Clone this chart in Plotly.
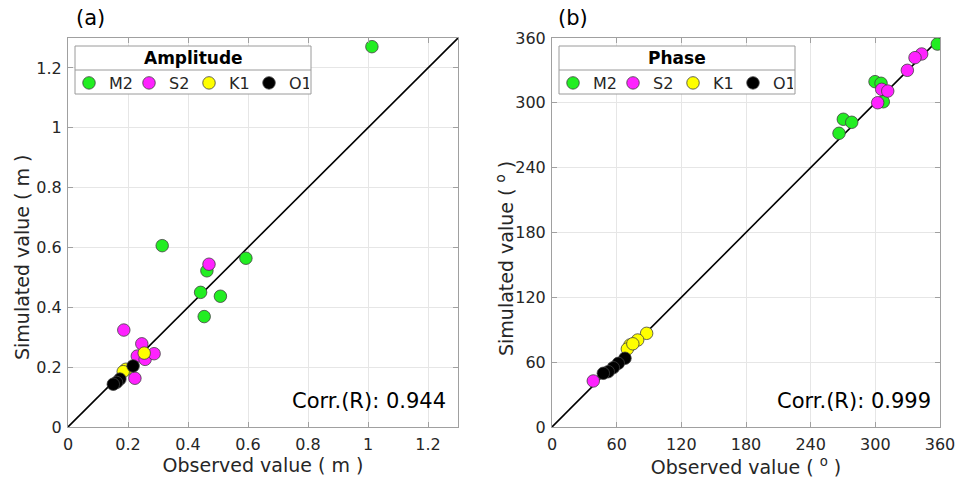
import plotly.graph_objects as go

# ---------------- data ----------------
constituents = ["M2", "S2", "K1", "O1"]
colors = {"M2": "#22ee22", "S2": "#ff22ff", "K1": "#ffff00", "O1": "#000000"}

# Panel (a): amplitude (m)
amp_obs = {
    "M2": [1.013, 0.314, 0.593, 0.463, 0.442, 0.508, 0.454],
    "S2": [0.470, 0.186, 0.246, 0.231, 0.257, 0.287, 0.223],
    "K1": [0.254, 0.193, 0.184],
    "O1": [0.217, 0.173, 0.162, 0.151],
}
amp_sim = {
    "M2": [1.271, 0.606, 0.564, 0.522, 0.450, 0.437, 0.369],
    "S2": [0.544, 0.324, 0.278, 0.237, 0.226, 0.245, 0.163],
    "K1": [0.247, 0.193, 0.185],
    "O1": [0.204, 0.160, 0.149, 0.143],
}

# Panel (b): phase (deg)
pha_obs = {
    "M2": [357.5, 299.7, 305.3, 307.4, 270.3, 278.1, 266.3],
    "S2": [343.0, 336.8, 329.7, 305.9, 311.5, 302.2, 38.3],
    "K1": [87.8, 79.5, 72.4, 69.9, 75.0],
    "O1": [67.7, 61.5, 56.9, 52.2, 47.6],
}
pha_sim = {
    "M2": [354.4, 319.6, 318.1, 301.0, 284.8, 282.0, 271.8],
    "S2": [345.2, 341.8, 330.1, 312.5, 310.9, 300.1, 42.6],
    "K1": [86.7, 80.5, 75.9, 72.2, 77.0],
    "O1": [63.6, 58.9, 54.9, 51.2, 49.7],
}

amp_ticks = [0, 0.2, 0.4, 0.6, 0.8, 1.0, 1.2]
amp_ticktext = ["0", "0.2", "0.4", "0.6", "0.8", "1", "1.2"]
amp_range = [0, 1.3]
pha_ticks = [0, 60, 120, 180, 240, 300, 360]
pha_ticktext = ["0", "60", "120", "180", "240", "300", "360"]
pha_range = [0, 360]

corr_a = "Corr.(R): 0.944"
corr_b = "Corr.(R): 0.999"

# ---------------- figure ----------------
W, H = 960, 484
FONT = "DejaVu Sans"
TXT = "#262626"
AXC = "#a0a0a0"

def px_x(p):
    return p / W

def px_y(p):
    return 1 - p / H

fig = go.Figure()

# 1:1 lines
fig.add_trace(go.Scatter(x=amp_range, y=amp_range, mode="lines",
                         line=dict(color="black", width=1.6),
                         showlegend=False, hoverinfo="skip", xaxis="x", yaxis="y"))
fig.add_trace(go.Scatter(x=pha_range, y=pha_range, mode="lines",
                         line=dict(color="black", width=1.6),
                         showlegend=False, hoverinfo="skip", xaxis="x2", yaxis="y2"))

for c in constituents:
    fig.add_trace(go.Scatter(
        x=amp_obs[c], y=amp_sim[c], mode="markers", name=c,
        marker=dict(size=12.5, color=colors[c], line=dict(color="#404040", width=0.8)),
        xaxis="x", yaxis="y", legend="legend"))
for c in constituents:
    fig.add_trace(go.Scatter(
        x=pha_obs[c], y=pha_sim[c], mode="markers", name=c,
        marker=dict(size=12.5, color=colors[c], line=dict(color="#404040", width=0.8)),
        xaxis="x2", yaxis="y2", legend="legend2"))

axis_common = dict(
    showline=True, linecolor=AXC, linewidth=1, mirror="ticks",
    ticks="inside", ticklen=5, tickcolor=AXC,
    showgrid=True, gridcolor="#e6e6e6", gridwidth=1,
    zeroline=False, automargin=False,
    tickfont=dict(family=FONT, size=16, color=TXT),
)

ydom = [px_y(427), px_y(38)]
fig.update_layout(
    width=W, height=H,
    margin=dict(l=0, r=0, t=0, b=0),
    paper_bgcolor="white", plot_bgcolor="white",
    font=dict(family=FONT, color=TXT),
    xaxis=dict(domain=[px_x(68), px_x(458)], range=amp_range, anchor="y",
               tickvals=amp_ticks, ticktext=amp_ticktext, ticklabelstandoff=3,
               title=dict(text="Observed value ( m )", standoff=3,
                          font=dict(family=FONT, size=19, color=TXT)),
               **axis_common),
    yaxis=dict(domain=ydom, range=amp_range, anchor="x",
               tickvals=amp_ticks, ticktext=amp_ticktext, ticklabelstandoff=2,
               **axis_common),
    xaxis2=dict(domain=[px_x(552), px_x(940)], range=pha_range, anchor="y2",
                tickvals=pha_ticks, ticktext=pha_ticktext, ticklabelstandoff=3,
                title=dict(text="Observed value ( <sup>o</sup> )", standoff=3,
                           font=dict(family=FONT, size=19, color=TXT)),
                **axis_common),
    yaxis2=dict(domain=ydom, range=pha_range, anchor="x2",
                tickvals=pha_ticks, ticktext=pha_ticktext, ticklabelstandoff=2,
                **axis_common),
    legend=dict(orientation="h", x=px_x(69), y=px_y(83), xanchor="left", yanchor="middle",
                bgcolor="rgba(0,0,0,0)", borderwidth=0,
                font=dict(family=FONT, size=16, color=TXT),
                entrywidth=15, entrywidthmode="pixels", tracegroupgap=0),
    legend2=dict(orientation="h", x=px_x(553), y=px_y(83), xanchor="left", yanchor="middle",
                 bgcolor="rgba(0,0,0,0)", borderwidth=0,
                 font=dict(family=FONT, size=16, color=TXT),
                 entrywidth=15, entrywidthmode="pixels", tracegroupgap=0),
)

# legend frames (box + separator) and titles
for (x0, x1, title) in [(75, 311, "Amplitude"), (559, 795, "Phase")]:
    fig.add_shape(type="rect", xref="paper", yref="paper",
                  x0=px_x(x0), x1=px_x(x1), y0=px_y(94), y1=px_y(46),
                  fillcolor="white", line=dict(color="#9a9a9a", width=1), layer="above")
    fig.add_shape(type="line", xref="paper", yref="paper",
                  x0=px_x(x0), x1=px_x(x1), y0=px_y(70), y1=px_y(70),
                  line=dict(color="#9a9a9a", width=1), layer="above")
    fig.add_annotation(xref="paper", yref="paper", x=px_x((x0 + x1) / 2), y=px_y(58),
                       text="<b>" + title + "</b>", showarrow=False,
                       xanchor="center", yanchor="middle",
                       font=dict(family=FONT, size=17, color="black"))

# y-axis titles
fig.add_annotation(xref="paper", yref="paper", x=px_x(22), y=px_y(258),
                   text="Simulated value ( m )", textangle=-90, showarrow=False,
                   xanchor="center", yanchor="middle",
                   font=dict(family=FONT, size=19, color=TXT))
fig.add_annotation(xref="paper", yref="paper", x=px_x(505), y=px_y(258),
                   text="Simulated value ( <sup>o</sup> )", textangle=-90, showarrow=False,
                   xanchor="center", yanchor="middle",
                   font=dict(family=FONT, size=19, color=TXT))

# panel labels
fig.add_annotation(xref="paper", yref="paper", x=px_x(74), y=px_y(18),
                   text="(a)", showarrow=False, xanchor="left", yanchor="middle",
                   font=dict(family=FONT, size=21, color="black"))
fig.add_annotation(xref="paper", yref="paper", x=px_x(556), y=px_y(18),
                   text="(b)", showarrow=False, xanchor="left", yanchor="middle",
                   font=dict(family=FONT, size=21, color="black"))

# correlation text
fig.add_annotation(xref="paper", yref="paper", x=px_x(448), y=px_y(401),
                   text=corr_a, showarrow=False, xanchor="right", yanchor="middle",
                   font=dict(family=FONT, size=21, color="black"))
fig.add_annotation(xref="paper", yref="paper", x=px_x(933), y=px_y(401),
                   text=corr_b, showarrow=False, xanchor="right", yanchor="middle",
                   font=dict(family=FONT, size=21, color="black"))

fig.write_html("out.html")
